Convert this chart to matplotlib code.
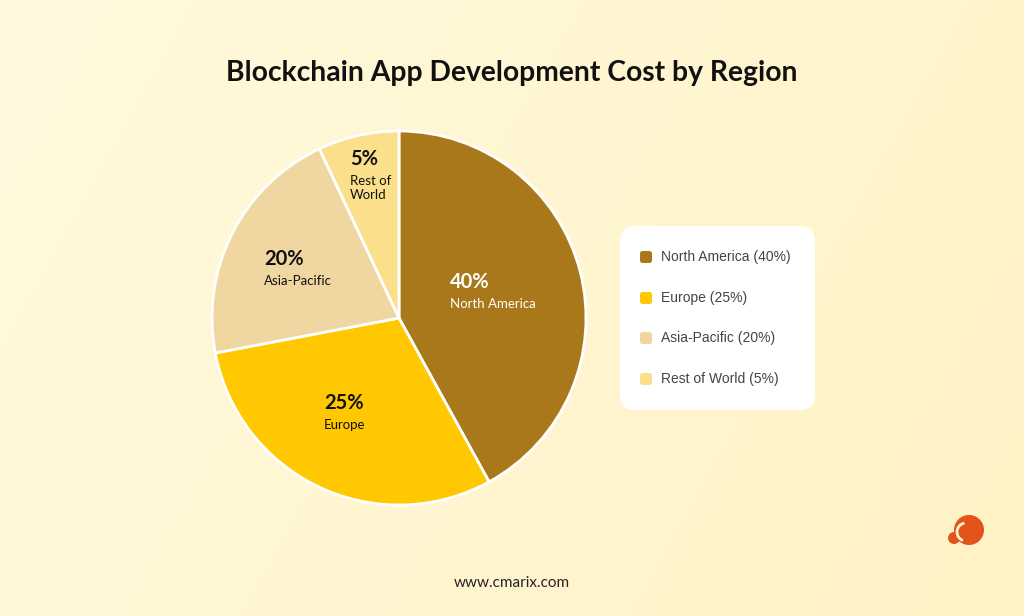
import numpy as np
import matplotlib.pyplot as plt
from matplotlib.patches import FancyBboxPatch, Circle, Arc

# data
regions = ['North America', 'Europe', 'Asia-Pacific', 'Rest of World']
shares = [40, 25, 20, 5]
# slice sizes as actually drawn in the picture (they are not exactly the labelled shares)
slice_sizes = [42, 30, 21, 7]
slice_names = ['North America', 'Europe', 'Asia-Pacific', 'Rest of\nWorld']
colors = ['#A8781A', '#FFC800', '#F0D6A0', '#FBDF8A']
label_colors = ['white', '#111111', '#111111', '#111111']

fig = plt.figure(figsize=(10.24, 6.16), dpi=100)

# background gradient
bg = fig.add_axes([0, 0, 1, 1])
gx = np.linspace(0, 1, 256)
gy = np.linspace(0, 1, 128)
GX, GY = np.meshgrid(gx, gy)
c0 = np.array([255, 249, 222]) / 255
c1 = np.array([255, 242, 196]) / 255
t = np.clip(0.75 * GX + 0.25 * GY, 0, 1)[..., None]
bg.imshow(c0 * (1 - t) + c1 * t, extent=[0, 1, 0, 1], aspect='auto', origin='upper')
bg.set_xlim(0, 1)
bg.set_ylim(0, 1)
bg.axis('off')

fig.text(0.5, 1 - 73 / 616, 'Blockchain App Development Cost by Region',
         ha='center', va='center', fontsize=20.3, fontweight='bold',
         family='Lato', color='#111111')

# pie
R = 187
cx, cy = 399, 318
ax = fig.add_axes([(cx - R) / 1024, (616 - cy - R) / 616, 2 * R / 1024, 2 * R / 616])
wedges, _ = ax.pie(slice_sizes, colors=colors, startangle=90, counterclock=False,
                   radius=1, wedgeprops=dict(edgecolor='white', linewidth=2))
ax.set_xlim(-1, 1)
ax.set_ylim(-1, 1)
ax.axis('off')

# label anchors (left edge, pixel coords of the percent line)
anchors = [(450, 282), (324, 403), (264, 259), (350, 159)]
for (px, py), s, name, lc in zip(anchors, shares, slice_names, label_colors):
    x = (px - cx) / R
    y = (cy - py) / R
    ax.text(x, y, f'{s}%', ha='left', va='center', fontsize=14.5,
            fontweight='bold', family='Lato', color=lc)
    ax.text(x, y - 0.085, name, ha='left', va='top', fontsize=9.5,
            family='Lato', color=lc, linespacing=1.25)

# legend box
box = FancyBboxPatch((620 / 1024, 1 - 410 / 616), 195 / 1024, 184 / 616,
                     boxstyle='round,pad=0,rounding_size=0.015',
                     transform=fig.transFigure, facecolor='white',
                     edgecolor='none', mutation_aspect=1024 / 616, zorder=2)
fig.add_artist(box)
ys = [257, 298, 338, 379]
for yy, reg, s, c in zip(ys, regions, shares, colors):
    fig.add_artist(FancyBboxPatch((640 / 1024, 1 - (yy + 6) / 616), 12 / 1024, 12 / 616,
                                  boxstyle='round,pad=0,rounding_size=0.0025',
                                  transform=fig.transFigure, facecolor=c,
                                  edgecolor='none', mutation_aspect=1024 / 616,
                                  zorder=3))
    fig.text(661 / 1024, 1 - yy / 616, f'{reg} ({s}%)', ha='left', va='center',
             fontsize=10, family='Liberation Sans', color='#444444', zorder=4)

fig.text(0.5, 1 - 583 / 616, 'www.cmarix.com', ha='center', va='center',
         fontsize=11, family='Lato', color='#222222')

# logo
lg = fig.add_axes([944 / 1024, (616 - 552) / 616, 44 / 1024, 44 / 616])
lg.set_xlim(0, 44)
lg.set_ylim(0, 44)
lg.set_aspect('equal')
lg.axis('off')
lg.add_patch(Circle((25, 22), 15, facecolor='#E2541B', edgecolor='none'))
lg.add_patch(Circle((10, 14), 6, facecolor='#E2541B', edgecolor='none'))
lg.add_patch(Arc((22, 20), 18, 18, theta1=100, theta2=250, color='#FFF3D0', lw=2))

fig.savefig('out.png', dpi=100)
